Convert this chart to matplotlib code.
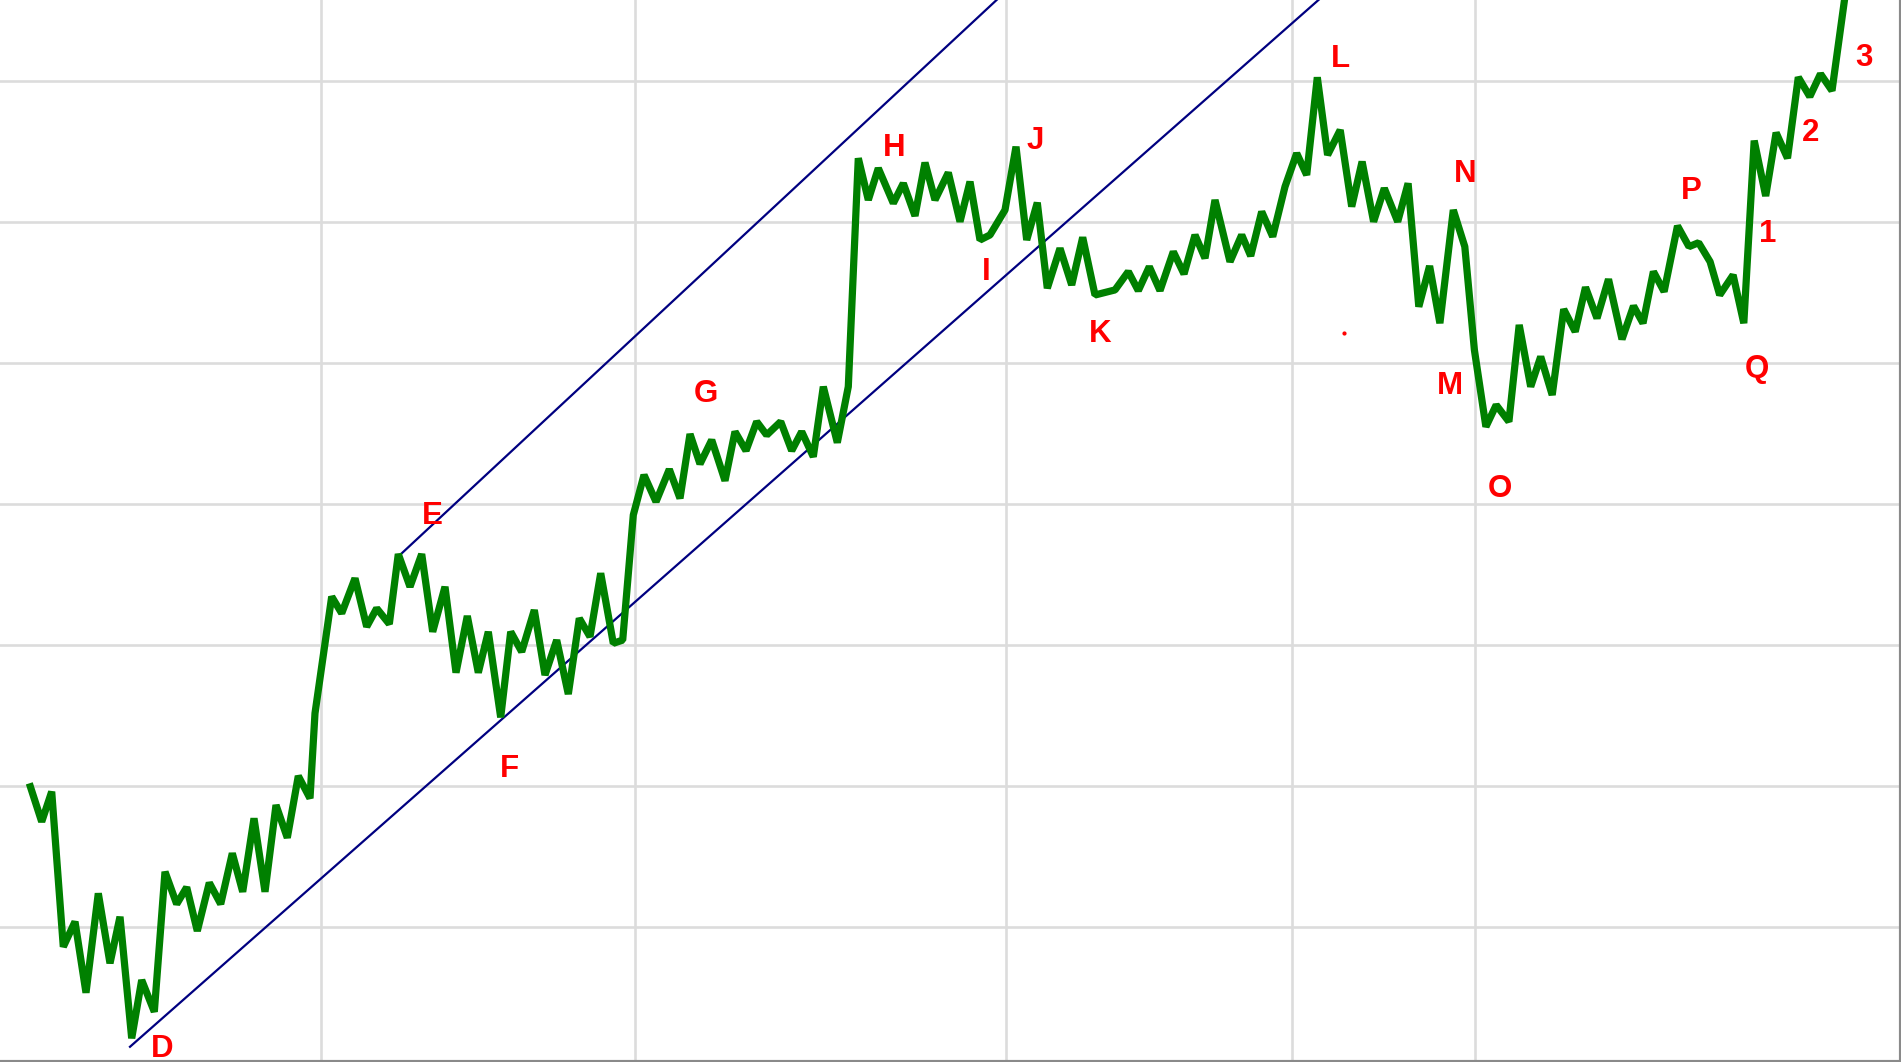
import matplotlib
matplotlib.use("Agg")
import matplotlib.pyplot as plt

# price path (t = time units, p = price)
t = [2.93, 4.17, 5.17, 6.33, 7.50, 8.60, 9.83, 11.00, 12.00, 13.17,
     14.17, 15.43, 16.50, 17.67, 18.67, 19.73, 20.93, 22.07, 23.23, 24.27,
     25.40, 26.50, 27.60, 28.73, 29.83, 31.00, 31.50, 33.17, 34.17, 35.50,
     36.67, 37.67, 38.93, 39.83, 41.00, 42.17, 43.27, 44.50, 45.60, 46.73,
     47.83, 48.83, 50.07, 51.07, 52.17, 53.43, 54.50, 55.67, 56.83, 57.93,
     59.00, 60.07, 61.33, 62.27, 63.33, 64.40, 65.60, 66.93, 68.00, 69.00,
     70.00, 71.17, 72.50, 73.50, 74.60, 75.67, 76.67, 78.07, 79.17, 80.17,
     81.33, 82.33, 83.73, 84.83, 85.83, 86.83, 87.83, 89.33, 90.33, 91.50,
     92.50, 93.50, 94.83, 96.00, 97.00, 98.00, 99.00, 100.50, 101.60, 102.67,
     103.73, 104.73, 106.00, 107.17, 108.27, 109.50, 111.50, 112.83, 113.83, 114.93,
     116.00, 117.33, 118.40, 119.50, 120.50, 121.50, 123.00, 124.17, 125.07, 126.17,
     127.27, 128.50, 129.67, 130.67, 131.73, 132.76, 134.02, 135.17, 136.21, 137.36,
     138.43, 139.77, 140.81, 141.88, 142.96, 143.99, 145.33, 146.48, 147.44, 148.59,
     149.62, 150.89, 151.92, 153.07, 154.07, 155.22, 156.37, 157.52, 158.55, 159.70,
     160.85, 162.20, 163.35, 164.30, 165.34, 166.41, 167.75, 168.90, 169.86, 171.01,
     171.97, 173.31, 174.38, 175.42, 176.57, 177.61, 178.75, 179.83, 180.98, 182.05,
     183.20, 185.00]
p = [50.19, 47.47, 49.60, 38.60, 40.38, 35.34, 42.39, 37.43, 40.73, 32.11,
     36.24, 33.99, 43.92, 41.63, 42.82, 39.72, 43.14, 41.63, 45.23, 42.50,
     47.71, 42.50, 48.65, 46.33, 50.71, 49.13, 55.16, 63.43, 62.25, 64.73,
     61.30, 62.60, 61.49, 66.45, 64.13, 66.45, 60.94, 64.13, 58.04, 62.06,
     58.04, 60.94, 54.87, 60.94, 59.52, 62.48, 57.87, 60.35, 56.52, 61.89,
     60.59, 65.09, 60.12, 60.35, 69.22, 72.06, 70.16, 72.46, 70.40, 74.96,
     72.84, 74.54, 71.65, 75.13, 73.78, 75.84, 74.89, 75.84, 73.78, 75.13,
     73.35, 78.32, 74.35, 78.32, 94.52, 91.56, 93.81, 91.33, 92.74, 90.43,
     94.21, 91.56, 93.50, 90.02, 92.86, 88.72, 89.08, 90.85, 95.34, 88.72,
     91.37, 85.30, 88.13, 85.53, 88.91, 84.82, 85.18, 86.48, 85.13, 86.83,
     85.13, 87.89, 86.31, 89.08, 87.43, 91.56, 87.18, 89.08, 87.59, 90.73,
     88.96, 92.50, 94.87, 93.33, 100.26, 94.75, 96.52, 91.09, 94.28, 90.02,
     92.39, 90.02, 92.74, 83.99, 86.88, 82.82, 90.85, 88.25, 80.92, 75.48,
     77.02, 75.84, 82.70, 78.32, 80.45, 77.73, 83.81, 82.22, 85.37, 83.17,
     85.94, 81.68, 84.04, 82.82, 86.48, 85.06, 89.72, 88.25, 88.53, 87.18,
     84.82, 86.24, 82.82, 95.77, 91.84, 96.33, 94.52, 100.26, 98.89, 100.50,
     99.31, 108.58]

# channel lines (start / end)
upper_t = [40.17, 105.04]
upper_p = [66.50, 109.29]
lower_t = [13.00, 137.53]
lower_p = [31.51, 109.29]

# wave labels
labels = ["D", "E", "F", "G", "H", "I", "J", "K", "L", "M", "N", "O", "P", "Q", "1", "2", "3"]
label_t = [16.17, 43.23, 50.90, 70.60, 89.40, 98.60, 103.50, 110.00, 134.00,
           145.02, 146.48, 150.00, 169.10, 175.69, 176.76, 181.09, 186.42]
label_p = [31.33, 69.16, 51.19, 77.78, 95.28, 86.42, 95.76, 82.04, 101.54,
           78.38, 93.39, 71.05, 92.21, 79.56, 89.13, 96.34, 101.66]

grid_t = [32.07, 63.50, 100.57, 129.15, 147.52]
grid_p = [40, 50, 60, 70, 80, 90, 100]

fig = plt.figure(figsize=(19.01, 10.62), dpi=100)
ax = fig.add_axes([0, 0, 1, 1])

ax.set_xlim(0, 190.1)
ax.set_ylim(30.43, 105.74)
ax.set_xticks(grid_t)
ax.set_yticks(grid_p)
ax.tick_params(length=0, labelbottom=False, labelleft=False)
ax.grid(True, color="#dcdcdc", linewidth=1.9)
ax.set_axisbelow(True)

for s in ["top", "left"]:
    ax.spines[s].set_visible(False)
for s in ["bottom", "right"]:
    ax.spines[s].set_color("#8a8a8a")
    ax.spines[s].set_linewidth(3)

ax.plot(upper_t, upper_p, color="#000080", linewidth=1.6)
ax.plot(lower_t, lower_p, color="#000080", linewidth=1.6)
ax.plot(t, p, color="#008000", linewidth=5.2, solid_joinstyle="bevel", solid_capstyle="butt")

for lab, x, y in zip(labels, label_t, label_p):
    ax.text(x, y, lab, color="red", fontsize=22.5, fontweight="bold",
            family="Liberation Sans", ha="center", va="center")

# stray mark near L
ax.plot([134.41], [82.15], marker="o", markersize=2, color="red")

fig.savefig("out.png", dpi=100)
